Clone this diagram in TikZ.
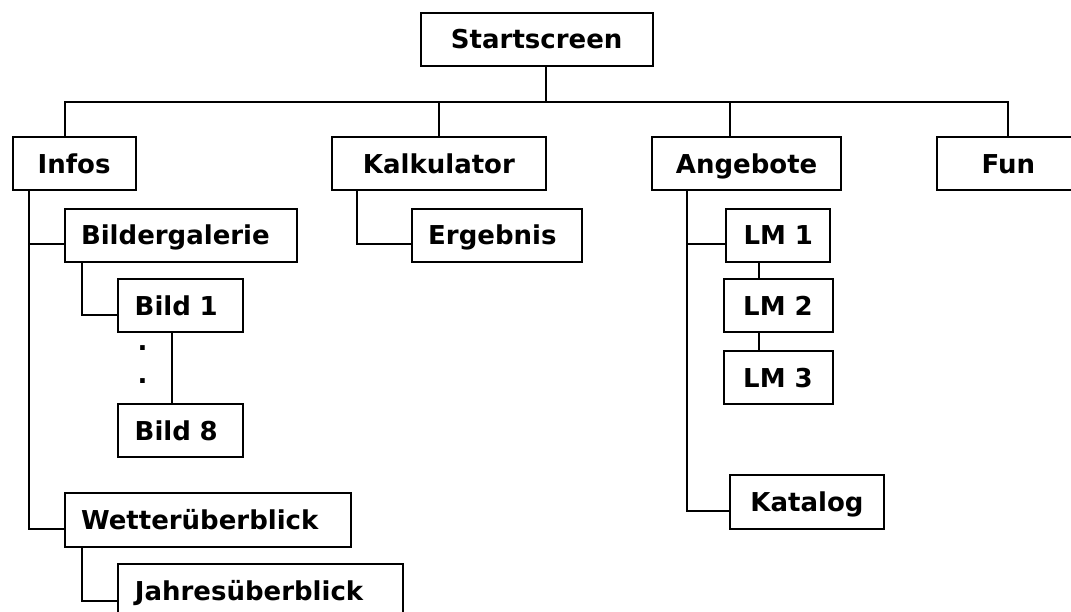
\documentclass[tikz,border=0pt]{standalone}
\usepackage{fontspec}
\setmainfont{DejaVu Sans}
\tikzset{
  box/.style={draw, line width=2pt, inner sep=0pt, minimum height=53pt,
    text height=19pt, text depth=0pt, font=\bfseries\fontsize{26}{30}\selectfont},
  lefttext/.style={inner xsep=16.5pt, text width=#1, align=left},
  link/.style={line width=2pt},
  dotmark/.style={inner sep=0pt, anchor=base, font=\bfseries\fontsize{26}{30}\selectfont},
}

\begin{document}
\begin{tikzpicture}[x=1pt, y=-1pt]
  \useasboundingbox (0,0) rectangle (1071,612);
  \clip (0,0) rectangle (1071,612);
  % top level
  \node[box, minimum width=232pt] (start) at (536.7,39.2) {Startscreen};
  \node[box, minimum width=123pt] (infos) at (74.1,163.7) {Infos};
  \node[box, minimum width=214pt] (kalk) at (438.9,163.7) {Kalkulator};
  \node[box, minimum width=189pt] (angebote) at (746.6,163.7) {Angebote};
  \node[box, minimum width=143pt] (fun) at (1008.4,163.7) {Fun};
  % infos branch
  \node[box, lefttext=199pt] (bilder) at (180.5,235.2) {Bildergalerie};
  \node[box, lefttext=92pt] (bildeins) at (180.7,306) {Bild 1};
  \node[dotmark] (dotone) at (142.5,350) {.};
  \node[dotmark] (dottwo) at (142.5,383.3) {.};
  \node[box, lefttext=92pt] (bildacht) at (180.7,430.7) {Bild 8};
  \node[box, lefttext=253pt, minimum height=54pt] (wetter) at (207.5,519.7) {Wetterüberblick};
  \node[box, lefttext=252pt] (jahres) at (260.9,590.5) {Jahresüberblick};
  % kalkulator branch
  \node[box, lefttext=137pt] (ergebnis) at (496.7,235.2) {Ergebnis};
  % angebote branch
  \node[box, minimum width=104pt] (lmeins) at (778.3,235.2) {LM 1};
  \node[box, minimum width=109pt] (lmzwei) at (778,306) {LM 2};
  \node[box, minimum width=109pt] (lmdrei) at (778,377.5) {LM 3};
  \node[box, minimum width=154pt, minimum height=54pt] (katalog) at (807,501.8) {Katalog};

  % bus below the startscreen
  \coordinate (bus) at (545.7,101.7);
  \coordinate (infostop) at ([xshift=-9pt]infos.north);
  \coordinate (angtop) at ([xshift=-17pt]angebote.north);
  \draw[link] (start.south -| bus) -- (bus);
  \draw[link] (infostop) |- (fun.north |- bus) -- (fun.north);
  \draw[link] (kalk.north) -- (kalk.north |- bus);
  \draw[link] (angtop) -- (angtop |- bus);
  % infos tree
  \coordinate (infostrunk) at ([xshift=17pt]infos.south west);
  \draw[link] (infostrunk) |- ([yshift=-9pt]bilder.west);
  \draw[link] (infostrunk) |- ([yshift=-9pt]wetter.west);
  \draw[link] ([xshift=18.6pt]bilder.south west) |- ([yshift=-9pt]bildeins.west);
  \draw[link] ([xshift=-9pt]bildeins.south) -- ([xshift=-9pt]bildacht.north);
  \draw[link] ([xshift=18pt]wetter.south west) |- ([yshift=-10pt]jahres.west);
  % kalkulator tree
  \draw[link] ([xshift=26pt]kalk.south west) |- ([yshift=-9pt]ergebnis.west);
  % angebote tree
  \coordinate (angtrunk) at ([xshift=36pt]angebote.south west);
  \draw[link] (angtrunk) |- ([yshift=-9pt]lmeins.west);
  \draw[link] (angtrunk) |- ([yshift=-9pt]katalog.west);
  \coordinate (lmlink) at ([xshift=-19pt]lmeins.south);
  \draw[link] (lmlink) -- (lmlink |- lmzwei.north);
  \draw[link] (lmzwei.south -| lmlink) -- (lmdrei.north -| lmlink);
\end{tikzpicture}
\end{document}
